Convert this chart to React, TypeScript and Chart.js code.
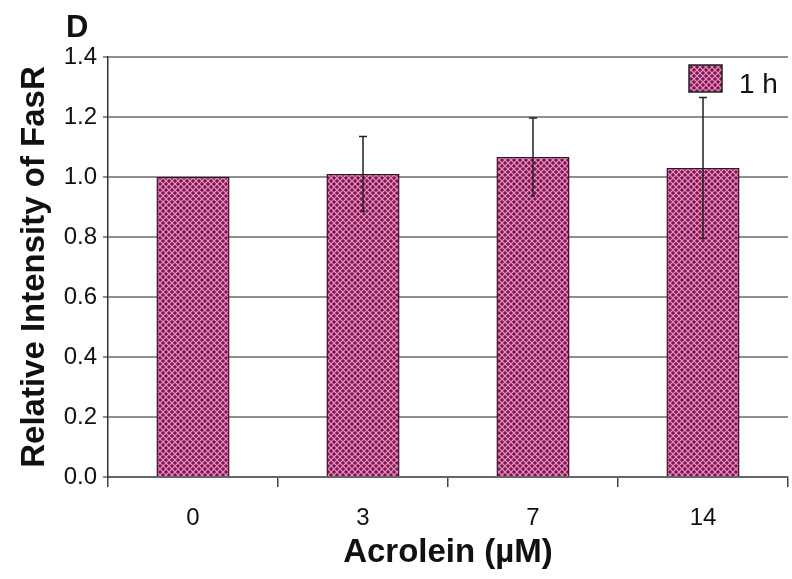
import React, { useEffect, useRef } from "react";
import { Chart, registerables } from "chart.js";

Chart.register(...registerables);

const categories = ["0", "3", "7", "14"];
const values = [1.0, 1.01, 1.067, 1.03];
const errors = [0, 0.125, 0.13, 0.235];
const yTicks = [0, 0.2, 0.4, 0.6, 0.8, 1.0, 1.2, 1.4];
const seriesLabel = "1 h";
const panelLetter = "D";
const xTitle = "Acrolein (µM)";
const yTitle = "Relative Intensity of FasR";

const FONT = "'Liberation Sans', Arial, Helvetica, sans-serif";

function makePattern(): CanvasPattern | string {
  const c = document.createElement("canvas");
  c.width = 6;
  c.height = 6;
  const g = c.getContext("2d");
  if (!g) return "#b0507f";
  g.fillStyle = "#e48cc0";
  g.fillRect(0, 0, 6, 6);
  const dark = "#761a4b";
  const mid = "#a8407a";
  const dot = (cx: number, cy: number) => {
    g.fillStyle = mid;
    g.fillRect(cx - 1, cy, 4, 2);
    g.fillRect(cx, cy - 1, 2, 4);
    g.fillStyle = dark;
    g.fillRect(cx, cy, 2, 2);
  };
  dot(0, 0);
  dot(3, 3);
  dot(6, 0);
  dot(0, 6);
  dot(6, 6);
  const p = g.createPattern(c, "repeat");
  return p || "#b0507f";
}

export default function App() {
  const ref = useRef<HTMLCanvasElement | null>(null);

  useEffect(() => {
    document.body.style.margin = "0";
    const canvas = ref.current;
    if (!canvas) return;
    const pattern = makePattern();

    const overlay = {
      id: "overlay",
      afterDatasetsDraw(chart: any) {
        const ctx = chart.ctx;
        const area = chart.chartArea;
        const ds = chart.data.datasets[0];
        // legend (inside plot, top right)
        const lx = area.right - 102;
        const ly = area.top + 1;
        ctx.save();
        ctx.fillStyle = "#ffffff";
        ctx.fillRect(lx, ly, 102, 37);
        ctx.fillStyle = ds.backgroundColor;
        ctx.fillRect(lx + 3, ly + 7, 33, 27);
        ctx.strokeStyle = "#222";
        ctx.lineWidth = 1.5;
        ctx.strokeRect(lx + 3, ly + 7, 33, 27);
        ctx.fillStyle = "#111";
        ctx.font = `28px ${FONT}`;
        ctx.textBaseline = "alphabetic";
        ctx.textAlign = "left";
        ctx.fillText(ds.label, lx + 53, ly + 35);
        ctx.restore();

        const meta = chart.getDatasetMeta(0);
        const ys = chart.scales.y;
        ctx.save();
        ctx.strokeStyle = "#222";
        ctx.lineWidth = 1.5;
        meta.data.forEach((el: any, i: number) => {
          const e = errors[i];
          if (!e) return;
          const x = el.x;
          const top = ys.getPixelForValue(values[i] + e);
          const bot = ys.getPixelForValue(values[i] - e);
          ctx.beginPath();
          ctx.moveTo(x, top);
          ctx.lineTo(x, bot);
          ctx.moveTo(x - 4, top);
          ctx.lineTo(x + 4, top);
          ctx.moveTo(x - 2, bot);
          ctx.lineTo(x + 2, bot);
          ctx.stroke();
        });
        ctx.restore();
      },
      afterDraw(chart: any) {
        const ctx = chart.ctx;
        ctx.save();
        ctx.fillStyle = "#111";
        ctx.font = `bold 31px ${FONT}`;
        ctx.textBaseline = "alphabetic";
        ctx.textAlign = "left";
        ctx.fillText(panelLetter, 66, 37);
        ctx.restore();
      },
    };

    const chart = new Chart(canvas, {
      type: "bar",
      data: {
        labels: categories,
        datasets: [
          {
            label: seriesLabel,
            data: values,
            backgroundColor: pattern as any,
            borderColor: "#3e0c28",
            borderWidth: 1.5,
            categoryPercentage: 1,
            barPercentage: 0.43,
          },
        ],
      },
      plugins: [overlay],
      options: {
        animation: false,
        responsive: true,
        maintainAspectRatio: false,
        layout: { padding: { top: 57, right: 4, left: 0, bottom: 0 } },
        plugins: {
          legend: { display: false },
          tooltip: { enabled: false },
        },
        scales: {
          x: {
            offset: true,
            grid: {
              offset: true,
              drawOnChartArea: false,
              drawTicks: true,
              tickLength: 10,
              color: "#444",
              lineWidth: 1.5,
            },
            border: { display: true, color: "#666", width: 2 },
            ticks: {
              color: "#111",
              font: { family: FONT, size: 24 },
              padding: 17,
            },
            title: {
              display: true,
              text: xTitle,
              color: "#111",
              font: { family: FONT, size: 33, weight: "bold" },
              padding: { top: 0, bottom: 6 },
            },
            afterFit(s: any) {
              s.height = 102;
            },
          },
          y: {
            min: 0,
            max: 1.4,
            afterBuildTicks(s: any) {
              s.ticks = yTicks.map((v) => ({ value: v }));
            },
            grid: {
              color: "#8f8f8f",
              lineWidth: 2,
              drawTicks: true,
              tickLength: 5,
            },
            border: { display: true, color: "#333", width: 1.5 },
            ticks: {
              color: "#111",
              font: { family: FONT, size: 24 },
              padding: 6,
              callback: (v: any) => Number(v).toFixed(1),
            },
            title: {
              display: true,
              text: yTitle,
              color: "#111",
              font: { family: FONT, size: 33, weight: "bold" },
              padding: { top: 15, bottom: 0 },
            },
            afterFit(s: any) {
              s.width = 108;
            },
          },
        },
      },
    } as any);

    return () => chart.destroy();
  }, []);

  return (
    <div style={{ width: 792, height: 579, position: "relative" }}>
      <canvas ref={ref} />
    </div>
  );
}
